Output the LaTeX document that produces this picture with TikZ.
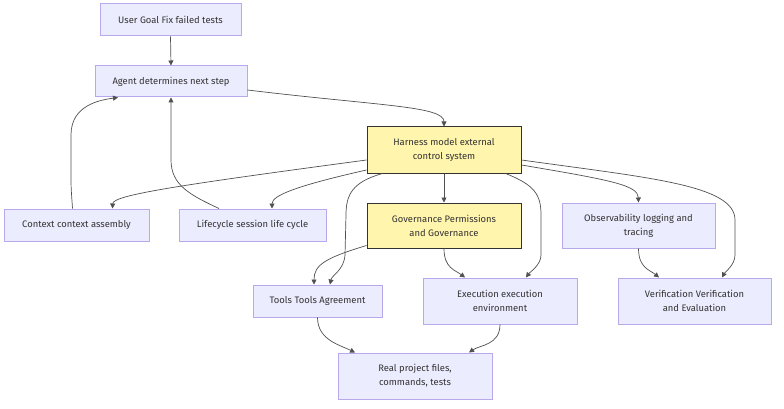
\documentclass[tikz,border=0pt]{standalone}
\usepackage{fontspec}
\setmainfont{Fira Sans}
\usetikzlibrary{arrows.meta}
\definecolor{boxfill}{HTML}{ECECFF}
\definecolor{boxline}{HTML}{B8A8EC}
\definecolor{hlfill}{HTML}{FFF5AD}
\definecolor{hlline}{HTML}{333333}
\definecolor{txt}{HTML}{333333}
\definecolor{edge}{HTML}{505050}
\tikzset{
  box/.style={draw=boxline, fill=boxfill, line width=1pt, inner sep=0pt, align=center,
    text=txt, font=\fontsize{9.4}{14}\selectfont},
  hl/.style={box, draw=hlline, fill=hlfill},
  link/.style={draw=edge, line width=0.7pt, -{Triangle[length=5pt,width=5pt]}}
}
\begin{document}
\begin{tikzpicture}[x=1pt,y=-1pt]
\useasboundingbox (0,0) rectangle (784,409);
\node[box, minimum width=141pt, minimum height=32pt] (user) at (170.5,20) {User Goal Fix failed tests};
\node[box, minimum width=152pt, minimum height=31pt] (agent) at (171,81.5) {Agent determines next step};
\node[hl, minimum width=154pt, minimum height=46pt] (harness) at (444,150) {Harness model external\\control system};
\node[box, minimum width=145pt, minimum height=32pt] (context) at (76.5,225) {Context context assembly};
\node[box, minimum width=147pt, minimum height=32pt] (life) at (252.5,225) {Lifecycle session life cycle};
\node[hl, minimum width=154pt, minimum height=45pt] (gov) at (444,225.5) {Governance Permissions\\and Governance};
\node[box, minimum width=153pt, minimum height=45pt] (obs) at (638.5,225.5) {Observability logging and\\tracing};
\node[box, minimum width=129pt, minimum height=32pt] (tools) at (317.5,301) {Tools Tools Agreement};
\node[box, minimum width=154pt, minimum height=46pt] (exec) at (500,301) {Execution execution\\environment};
\node[box, minimum width=153pt, minimum height=46pt] (verif) at (694.5,301) {Verification Verification\\and Evaluation};
\node[box, minimum width=154pt, minimum height=46pt] (real) at (415,376) {Real project files,\\commands, tests};

\draw[link] (user.south) -- (agent.north);
\draw[link] ([yshift=-8.5pt]agent.east) .. controls (380,106) and (444,106) .. (harness.north);
\draw[link] ([yshift=-10pt]harness.west) .. controls (180,185) and (113,195) .. ([xshift=36pt]context.north);
\draw[link] ([yshift=-20pt]harness.west) .. controls (300,185) and (272,195) .. ([xshift=19.5pt]life.north);
\draw[link] ([xshift=16pt]harness.south west) .. controls (352,182) and (346,195) .. (346,215) -- (345,255) .. controls (344,270) and (332,275) .. ([xshift=12.5pt]tools.north);
\draw[link] (harness.south) -- (gov.north);
\draw[link] ([xshift=-16pt]harness.south east) .. controls (535,185) and (541,195) .. (541,215) -- (541,255) .. controls (541,265) and (530,272) .. ([xshift=26pt]exec.north);
\draw[link] ([yshift=-15pt]harness.east) .. controls (610,180) and (638,185) .. (obs.north);
\draw[link] ([yshift=-10pt]harness.east) .. controls (650,178) and (735,185) .. (735,220) -- (735,255) .. controls (735,265) and (725,272) .. ([xshift=27.5pt]verif.north);
\draw[link] ([xshift=-4pt]context.north) .. controls (72,200) and (71,190) .. (71,180) -- (71,135) .. controls (71,105) and (100,100) .. ([xshift=-53pt]agent.south);
\draw[link] ([xshift=-33.5pt]life.north) .. controls (190,195) and (171,185) .. (171,160) -- (agent.south);
\draw[link] ([yshift=3pt]gov.south west) .. controls (325,258) and (314,265) .. ([xshift=-3.5pt]tools.north);
\draw[link] (gov.south) .. controls (444,268) and (455,270) .. ([xshift=-35pt]exec.north);
\draw[link] (obs.south) .. controls (638.5,268) and (650,270) .. ([xshift=-35.5pt]verif.north);
\draw[link] (tools.south) .. controls (317.5,340) and (340,345) .. ([xshift=-60pt]real.north);
\draw[link] (exec.south) .. controls (500,345) and (480,345) .. ([xshift=54pt]real.north);
\end{tikzpicture}
\end{document}
